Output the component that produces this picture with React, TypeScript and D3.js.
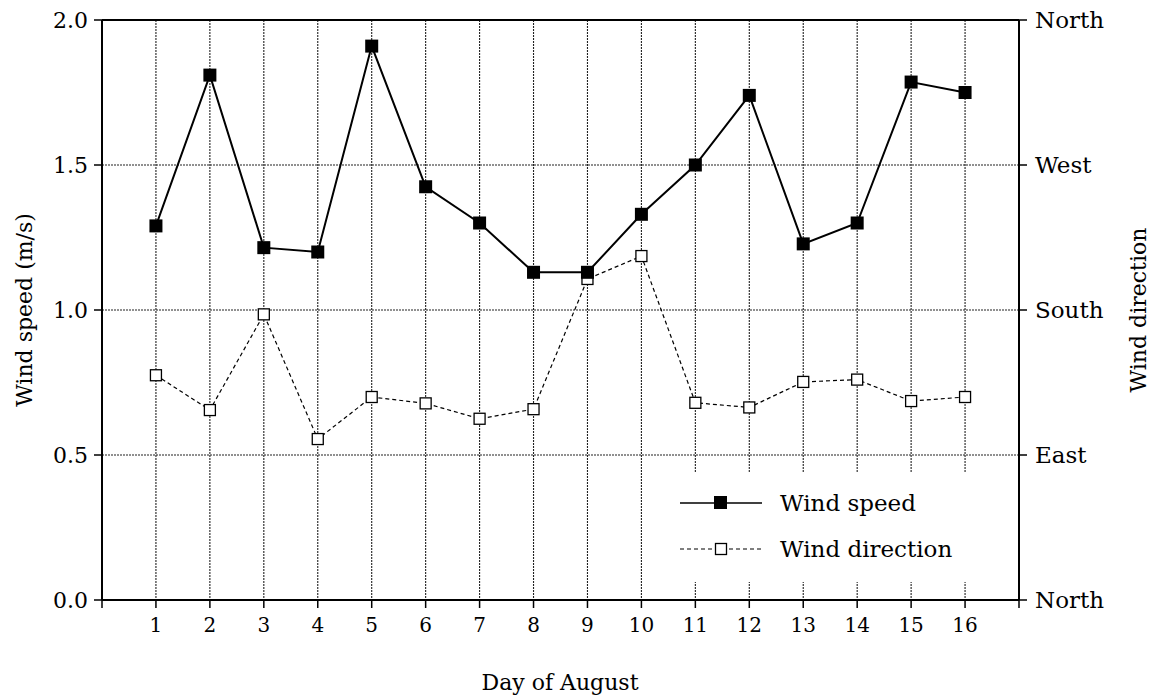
import React from "react";
import * as d3 from "d3";

const days = [1, 2, 3, 4, 5, 6, 7, 8, 9, 10, 11, 12, 13, 14, 15, 16];
const windSpeed = [1.29, 1.81, 1.215, 1.2, 1.91, 1.425, 1.3, 1.13, 1.13, 1.33, 1.5, 1.74, 1.228, 1.3, 1.786, 1.75];
const windDirection = [0.775, 0.655, 0.985, 0.555, 0.7, 0.678, 0.625, 0.658, 1.107, 1.186, 0.68, 0.664, 0.752, 0.76, 0.686, 0.7];
const leftTicks = [0, 0.5, 1.0, 1.5, 2.0];
const rightLabels = ["North", "East", "South", "West", "North"];

const W = 1154;
const H = 697;
const left = 102;
const right = 1019;
const top = 20;
const bottom = 600;
const font = "'DejaVu Serif', serif";

export default function App() {
  const x = d3.scaleLinear().domain([0, 17]).range([left, right]);
  const y = d3.scaleLinear().domain([0, 2]).range([bottom, top]);
  const line = d3
    .line<number>()
    .x((_, i) => x(days[i]))
    .y((d) => y(d));

  const gridColor = "#222";
  const legX = 675;
  const legY = 472;

  return (
    <svg
      width={W}
      height={H}
      style={{ position: "absolute", left: 0, top: 0, background: "#fff" }}
      fontFamily={font}
    >
      <rect width={W} height={H} fill="#fff" />
      {/* grid */}
      {days.map((d) => (
        <line
          key={"v" + d}
          x1={x(d)}
          x2={x(d)}
          y1={top}
          y2={bottom}
          stroke={gridColor}
          strokeWidth={1.1}
          strokeDasharray="2,1"
        />
      ))}
      {leftTicks.slice(1, 4).map((t) => (
        <line
          key={"h" + t}
          x1={left}
          x2={right}
          y1={y(t)}
          y2={y(t)}
          stroke={gridColor}
          strokeWidth={1.1}
          strokeDasharray="2,1"
        />
      ))}
      {/* legend background */}
      <rect x={legX} y={legY} width={right - legX - 1} height={110} fill="#fff" />
      {/* frame */}
      <line x1={left} x2={right} y1={top} y2={top} stroke="#000" strokeWidth={2} />
      <line x1={left} x2={right} y1={bottom} y2={bottom} stroke="#000" strokeWidth={2} />
      <line x1={left} x2={left} y1={top} y2={bottom} stroke="#000" strokeWidth={2} />
      <line x1={right} x2={right} y1={top} y2={bottom} stroke="#000" strokeWidth={2} />
      {/* left ticks */}
      {leftTicks.map((t) => (
        <g key={"lt" + t}>
          <line x1={left - 8} x2={left} y1={y(t)} y2={y(t)} stroke="#000" strokeWidth={1.5} />
          <text x={left - 14} y={y(t)} dy="0.35em" textAnchor="end" fontSize={22}>
            {t.toFixed(1)}
          </text>
        </g>
      ))}
      {/* right ticks */}
      {leftTicks.map((t, i) => (
        <g key={"rt" + t}>
          <line x1={right} x2={right + 8} y1={y(t)} y2={y(t)} stroke="#000" strokeWidth={1.5} />
          <text x={right + 16} y={y(t)} dy="0.35em" textAnchor="start" fontSize={23}>
            {rightLabels[i]}
          </text>
        </g>
      ))}
      {/* bottom ticks */}
      {[0, ...days, 17].map((d) => (
        <line key={"bt" + d} x1={x(d)} x2={x(d)} y1={bottom} y2={bottom + 8} stroke="#000" strokeWidth={1.5} />
      ))}
      {days.map((d) => (
        <text key={"bl" + d} x={x(d)} y={bottom + 32} textAnchor="middle" fontSize={20}>
          {d}
        </text>
      ))}
      {/* axis titles */}
      <text x={560} y={690} textAnchor="middle" fontSize={22}>
        Day of August
      </text>
      <text
        transform={`translate(32,${(top + bottom) / 2}) rotate(-90)`}
        textAnchor="middle"
        fontSize={22}
      >
        Wind speed (m/s)
      </text>
      <text
        transform={`translate(1146,${(top + bottom) / 2}) rotate(-90)`}
        textAnchor="middle"
        fontSize={22}
      >
        Wind direction
      </text>
      {/* series */}
      <path d={line(windDirection) || ""} fill="none" stroke="#000" strokeWidth={1.2} strokeDasharray="4,3" />
      {windDirection.map((v, i) => (
        <rect
          key={"wd" + i}
          x={x(days[i]) - 5.5}
          y={y(v) - 5.5}
          width={11}
          height={11}
          fill="#fff"
          stroke="#000"
          strokeWidth={1.3}
        />
      ))}
      <path d={line(windSpeed) || ""} fill="none" stroke="#000" strokeWidth={2} />
      {windSpeed.map((v, i) => (
        <rect key={"ws" + i} x={x(days[i]) - 6.5} y={y(v) - 6.5} width={13} height={13} fill="#000" />
      ))}
      {/* legend */}
      <line x1={680} x2={762} y1={503} y2={503} stroke="#000" strokeWidth={1.5} />
      <rect x={714} y={496} width={13} height={13} fill="#000" />
      <text x={780} y={503} dy="0.35em" fontSize={23}>
        Wind speed
      </text>
      <line x1={680} x2={762} y1={549} y2={549} stroke="#000" strokeWidth={1.2} strokeDasharray="4,3" />
      <rect x={715.5} y={543.5} width={11} height={11} fill="#fff" stroke="#000" strokeWidth={1.3} />
      <text x={780} y={549} dy="0.35em" fontSize={23}>
        Wind direction
      </text>
    </svg>
  );
}
